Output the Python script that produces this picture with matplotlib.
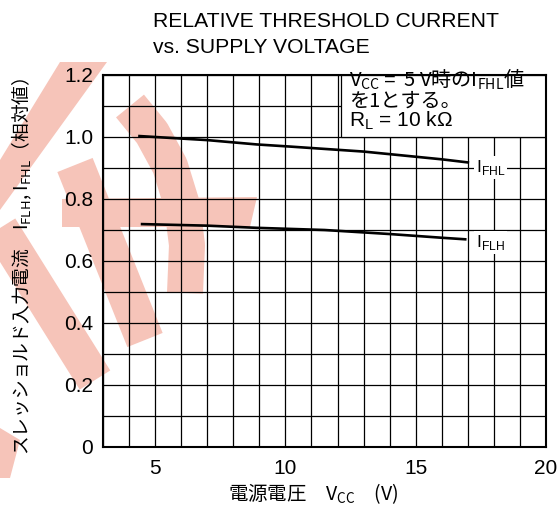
import matplotlib
matplotlib.use("Agg")
import matplotlib.pyplot as plt
from matplotlib.patches import Polygon, Rectangle
from matplotlib.ticker import MultipleLocator

plt.rcParams['font.family'] = ['Liberation Sans', 'Noto Sans CJK JP', 'DejaVu Sans']
plt.rcParams['mathtext.fontset'] = 'custom'
plt.rcParams['mathtext.rm'] = 'Liberation Sans'

# data
vcc_fhl = [4.4, 7.0, 8.9, 10.2, 13.0, 16.0, 17.0]
i_fhl = [1.003, 0.990, 0.976, 0.969, 0.953, 0.928, 0.918]
vcc_flh = [4.5, 7.0, 8.9, 11.5, 14.0, 16.0, 16.9]
i_flh = [0.719, 0.714, 0.707, 0.700, 0.687, 0.675, 0.670]

x_ticks = [5, 10, 15, 20]
y_ticks = [0, 0.2, 0.4, 0.6, 0.8, 1.0, 1.2]
y_tick_labels = ['0', '0.2', '0.4', '0.6', '0.8', '1.0', '1.2']

W, H = 559, 514
fig = plt.figure(figsize=(W / 100, H / 100), dpi=100)
fig.patch.set_facecolor('white')

# watermark behind the chart, drawn in pixel coordinates
bg = fig.add_axes([0, 0, 1, 1], zorder=-1)
bg.set_xlim(0, W)
bg.set_ylim(H, 0)
bg.axis('off')
pink = '#f6c4b9'
px = 0.72
bg.add_patch(Polygon([(60, 62), (107, 62), (0, 210), (0, 160)], closed=True, color=pink, lw=0))
bg.add_patch(Polygon([(62, 199), (257, 197), (250, 227), (62, 227)], closed=True, color=pink, lw=0))
bg.add_patch(Polygon([(0, 428), (20, 440), (10, 478), (0, 478)], closed=True, color=pink, lw=0))
bg.plot([130, 152, 170, 182, 187, 185], [106, 133, 166, 205, 245, 293], color=pink, lw=36 * px,
        solid_capstyle='butt', solid_joinstyle='round')
bg.plot([75, 145], [165, 340], color=pink, lw=38 * px, solid_capstyle='butt')
bg.plot([0, 95], [228, 380], color=pink, lw=36 * px, solid_capstyle='butt')

ax = fig.add_axes([103 / W, 1 - 447 / H, 443 / W, 372 / H])
ax.set_facecolor('none')
ax.set_xlim(3, 20)
ax.set_ylim(0, 1.2)
ax.set_xticks(x_ticks)
ax.set_yticks(y_ticks)
ax.set_yticklabels(y_tick_labels)
ax.xaxis.set_minor_locator(MultipleLocator(1))
ax.yaxis.set_minor_locator(MultipleLocator(0.1))
ax.grid(True, which='both', color='black', lw=0.9)
ax.set_axisbelow(True)
ax.tick_params(which='both', length=0, labelsize=15)
ax.tick_params(axis='y', pad=7)
ax.tick_params(axis='x', pad=9)
for s in ax.spines.values():
    s.set_linewidth(1.5)

ax.plot(vcc_fhl, i_fhl, color='black', lw=1.9, zorder=3)
ax.plot(vcc_flh, i_flh, color='black', lw=1.9, zorder=3)

ax.add_patch(Rectangle((12.15, 1.0), 7.85, 0.2, facecolor='white', edgecolor='black', lw=0.9, zorder=2))
cjk = ['Noto Sans CJK JP']
ax.text(12.45, 1.163, r"V$_\mathregular{CC}=$ 5 V時のI$_\mathregular{FHL}$値", family=cjk, fontsize=14.5, va='baseline', zorder=4)
ax.text(12.45, 1.099, "を1とする。", family=cjk, fontsize=14.5, va='baseline', zorder=4)
ax.text(12.45, 1.035, r"R$_\mathregular{L}$ = 10 kΩ", fontsize=15, va='baseline', zorder=4)

box = dict(facecolor='white', edgecolor='none', pad=1.5)
ax.text(17.3, 0.888, r"I$_\mathregular{FHL}$", fontsize=12.5, va='baseline', bbox=box, zorder=4)
ax.text(17.3, 0.646, r"I$_\mathregular{FLH}$", fontsize=12.5, va='baseline', bbox=box, zorder=4)

fig.text(153 / W, 1 - 27 / H, "RELATIVE THRESHOLD CURRENT", fontsize=15.2, va='baseline')
fig.text(153 / W, 1 - 53 / H, "vs. SUPPLY VOLTAGE", fontsize=15.2, va='baseline')

fig.text(228 / W, 1 - 494 / H, r"電源電圧　V$_\mathregular{CC}$　(V)", family=cjk, fontsize=14, va='center')
fig.text(22 / W, 1 - 266 / H, r"スレッショルド入力電流　I$_\mathregular{FLH}$, I$_\mathregular{FHL}$（相対値）",
         family=cjk, fontsize=13.5, rotation=90, ha='center', va='center')

fig.savefig('out.png', dpi=100)
